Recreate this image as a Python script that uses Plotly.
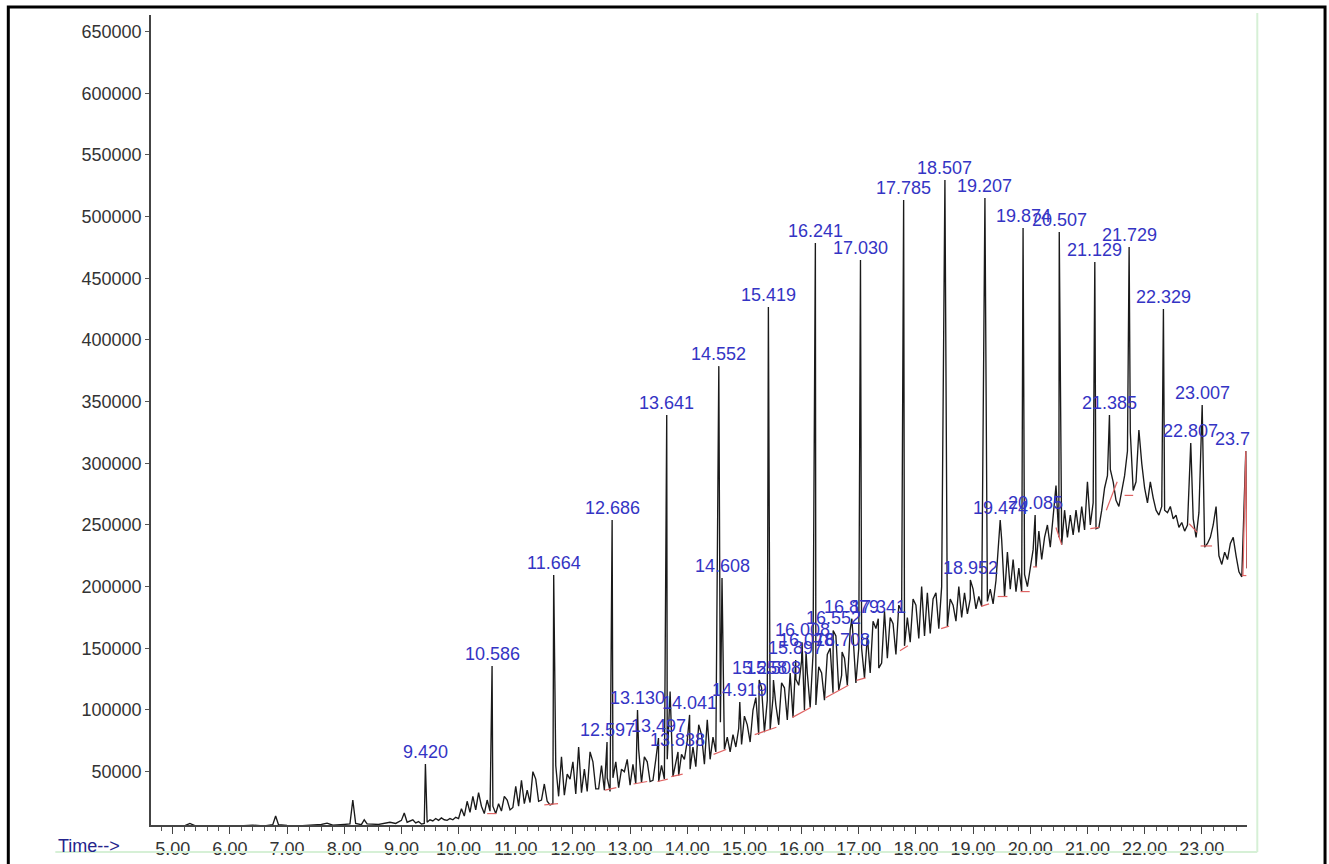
import plotly.graph_objects as go

# ---------------- data (time in min, abundance in thousands) ----------------
BG_TIMES = [
    4.62, 4.80, 5.00, 5.20, 5.30, 5.40, 5.60, 5.80, 6.00, 6.20, 6.40, 6.60, 6.75, 6.80, 6.85,
    7.00, 7.20, 7.40, 7.60, 7.70, 7.80, 8.00, 8.10, 8.15, 8.20, 8.30, 8.35, 8.40, 8.60, 8.80,
    8.90, 9.00, 9.05, 9.10, 9.20, 9.25, 9.30, 9.35, 9.40, 9.45, 9.50, 9.55, 9.60, 9.65, 9.70,
    9.75, 9.80, 9.85, 9.90, 9.95, 10.00, 10.05, 10.10, 10.15, 10.20, 10.25, 10.30, 10.35, 10.40,
    10.45, 10.50, 10.55, 10.60, 10.65, 10.70, 10.75, 10.80, 10.85, 10.90, 10.95, 11.00, 11.05,
    11.10, 11.15, 11.20, 11.25, 11.30, 11.35, 11.40, 11.45, 11.50, 11.55, 11.60, 11.65, 11.70,
    11.75, 11.80, 11.85, 11.90, 11.95, 12.00, 12.05, 12.10, 12.15, 12.20, 12.25, 12.30, 12.35,
    12.40, 12.45, 12.50, 12.55, 12.60, 12.65, 12.70, 12.75, 12.80, 12.85, 12.90, 12.95, 13.00,
    13.05, 13.10, 13.15, 13.20, 13.25, 13.30, 13.35, 13.40, 13.45, 13.50, 13.55, 13.60, 13.65,
    13.70, 13.75, 13.80, 13.85, 13.90, 13.95, 14.00, 14.05, 14.10, 14.15, 14.20, 14.25, 14.30,
    14.35, 14.40, 14.45, 14.50, 14.58, 14.65, 14.70, 14.75, 14.80, 14.85, 14.90, 14.95, 15.00,
    15.05, 15.10, 15.15, 15.20, 15.25, 15.30, 15.35, 15.40, 15.45, 15.50, 15.55, 15.60, 15.65,
    15.70, 15.75, 15.80, 15.85, 15.90, 15.95, 16.00, 16.05, 16.10, 16.15, 16.20, 16.25, 16.30,
    16.35, 16.40, 16.45, 16.50, 16.55, 16.60, 16.65, 16.70, 16.75, 16.80, 16.85, 16.90, 16.95,
    17.00, 17.05, 17.10, 17.15, 17.20, 17.25, 17.30, 17.35, 17.40, 17.45, 17.50, 17.55, 17.60,
    17.65, 17.70, 17.75, 17.80, 17.85, 17.90, 17.95, 18.00, 18.05, 18.10, 18.15, 18.20, 18.25,
    18.30, 18.35, 18.40, 18.45, 18.55, 18.60, 18.65, 18.70, 18.75, 18.80, 18.85, 18.90, 18.95,
    19.00, 19.05, 19.10, 19.15, 19.25, 19.30, 19.35, 19.40, 19.45, 19.50, 19.55, 19.60, 19.65,
    19.70, 19.75, 19.80, 19.85, 19.90, 19.95, 20.00, 20.05, 20.10, 20.15, 20.20, 20.25, 20.30,
    20.35, 20.40, 20.45, 20.50, 20.55, 20.60, 20.65, 20.70, 20.75, 20.80, 20.85, 20.90, 20.95,
    21.00, 21.05, 21.10, 21.15, 21.20, 21.25, 21.30, 21.35, 21.40, 21.45, 21.50, 21.55, 21.60,
    21.65, 21.70, 21.75, 21.80, 21.85, 21.90, 21.95, 22.00, 22.05, 22.10, 22.15, 22.20, 22.25,
    22.30, 22.35, 22.40, 22.45, 22.50, 22.55, 22.60, 22.65, 22.70, 22.75, 22.85, 22.90, 22.95,
    23.05, 23.10, 23.15, 23.20, 23.25, 23.30, 23.35, 23.40, 23.45, 23.50, 23.55, 23.60, 23.65,
    23.70, 23.79,
]
BG_SIGNAL_K = [
    5.5, 5.8, 5.4, 6.0, 8.0, 6.0, 5.5, 6.2, 5.6, 6.0, 6.6, 6.0, 7.0, 14.0, 7.0,
    6.4, 6.0, 6.6, 7.2, 8.2, 6.6, 7.2, 7.6, 27.0, 8.0, 7.0, 11.0, 7.6, 7.2, 9.0,
    8.0, 10.5, 16.5, 9.0, 11.0, 8.5, 9.5, 7.5, 8.0, 9.0, 11.0, 10.0, 12.0, 10.5, 12.5,
    11.0, 10.5, 12.0, 11.0, 13.0, 12.0, 20.0, 14.0, 26.0, 17.0, 30.0, 19.0, 33.0, 22.0,
    16.0, 27.0, 18.0, 22, 16, 24, 18, 30, 27, 19, 21, 38, 22,
    43, 24, 35, 25, 50, 44, 26, 27, 40, 26, 23, 24, 55,
    30, 62, 31, 48, 44, 58, 32, 70, 33, 52, 34, 66, 58,
    36, 36, 55, 35, 45, 34, 45, 58, 37, 52, 50, 60, 39,
    56, 40, 68, 41, 62, 58, 42, 43, 60, 42, 55, 44, 60,
    115, 46, 58, 47, 64, 60, 75, 52, 70, 54, 88, 80, 56,
    92, 60, 78, 66, 90, 68, 78, 66, 80, 70, 85, 72, 95,
    88, 74, 100, 110, 80, 118, 82, 108, 84, 110, 104, 88, 122,
    118, 92, 130, 94, 125, 120, 140, 100, 130, 102, 145, 104, 135,
    130, 108, 145, 150, 114, 160, 116, 128, 142, 120, 165, 160, 122,
    150, 150, 126, 160, 130, 172, 166, 134, 138, 180, 142, 175, 170,
    145, 185, 180, 152, 175, 155, 190, 185, 158, 200, 160, 195, 162,
    190, 195, 166, 200, 168, 190, 185, 172, 200, 175, 195, 178, 190,
    198, 182, 192, 184, 188, 198, 186, 205, 235, 238, 192, 228, 198,
    222, 196, 215, 196, 210, 200, 215, 230, 216, 245, 222, 240, 250,
    232, 255, 282, 240, 234, 262, 240, 258, 242, 262, 244, 265, 246,
    285, 250, 268, 247, 248, 262, 280, 290, 295, 285, 270, 265, 278,
    290, 310, 325, 278, 285, 327, 300, 280, 268, 285, 272, 262, 258,
    265, 262, 260, 265, 255, 258, 248, 252, 245, 250, 255, 240, 260,
    232, 235, 240, 250, 265, 225, 218, 228, 222, 235, 240, 225, 212,
    208, 215,
]

PEAK_LABELS = [
    "9.420", "10.586", "11.664", "12.597", "12.686", "13.130", "13.497", "13.641", "13.838",
    "14.041", "14.552", "14.608", "14.919", "15.258", "15.419", "15.508", "15.897", "16.008",
    "16.078", "16.241", "16.552", "16.708", "16.879", "17.030", "17.341", "17.785", "18.507",
    "18.952", "19.207", "19.474", "19.874", "20.085", "20.507", "21.129", "21.385", "21.729",
    "22.329", "22.807", "23.007", "23.7",
]
PEAK_TIMES = [
    9.420, 10.586, 11.664, 12.597, 12.686, 13.130, 13.497, 13.641, 13.838,
    14.041, 14.552, 14.608, 14.919, 15.258, 15.419, 15.508, 15.897, 16.008,
    16.078, 16.241, 16.552, 16.708, 16.879, 17.030, 17.341, 17.785, 18.507,
    18.952, 19.207, 19.474, 19.874, 20.085, 20.507, 21.129, 21.385, 21.729,
    22.329, 22.807, 23.007, 23.770,
]
PEAK_HEIGHTS_K = [
    56.2, 135.6, 209.4, 74.1, 254.0, 100.0, 77.3, 339.1, 66.0,
    96.0, 378.8, 207.0, 106.5, 124.3, 426.7, 124.3, 140.6, 155.0,
    147.0, 478.7, 164.5, 147.0, 174.0, 464.9, 174.0, 513.5, 529.7,
    205.4, 515.1, 254.0, 490.8, 258.1, 487.6, 463.3, 339.1, 475.4,
    425.1, 316.4, 347.2, 310.0,
]

# integration baselines (red): start time, start level, end time, end level (thousands)
RED_T0 = [9.30, 10.50, 11.50, 12.56, 13.06, 13.48, 13.72, 14.46, 15.18, 15.84, 16.42, 16.96,
          17.72, 18.44, 19.14, 19.43, 19.83, 20.05, 20.45, 21.05, 21.33, 21.65, 22.78, 22.98, 23.70]
RED_V0 = [6.0, 16, 23, 35, 40, 42, 46, 64, 80, 94, 110, 124,
          148, 166, 184, 192, 196, 216, 248, 247, 262, 274, 251, 233, 209]
RED_T1 = [9.50, 10.66, 11.74, 12.76, 13.30, 13.66, 13.92, 14.68, 15.56, 16.16, 16.82, 17.12,
          17.86, 18.58, 19.28, 19.60, 19.99, 20.12, 20.55, 21.20, 21.52, 21.80, 22.92, 23.18, 23.78]
RED_V1 = [6.0, 16, 24, 37, 42, 44, 48, 68, 86, 102, 120, 126,
          152, 168, 186, 192, 196, 216, 234, 248, 285, 274, 244, 233, 209]
RED_PEAK_T = [23.72, 23.770, 23.79]
RED_PEAK_V = [209, 310.0, 215]

Y_TICKS = [50000, 100000, 150000, 200000, 250000, 300000, 350000, 400000, 450000,
           500000, 550000, 600000, 650000]
X_TICKS = [5, 6, 7, 8, 9, 10, 11, 12, 13, 14, 15, 16, 17, 18, 19, 20, 21, 22, 23]
X_RANGE = [4.620, 23.791]
Y_RANGE = [6750, 663500]

# ---------------- build ----------------
pts = sorted(zip(BG_TIMES + PEAK_TIMES, BG_SIGNAL_K + PEAK_HEIGHTS_K))
tx = [p[0] for p in pts]
ty = [p[1] * 1000 for p in pts]

FONT = "Liberation Sans, Arial, sans-serif"
BLUE = "#3434c4"
RED = "#e06464"

fig = go.Figure()
fig.add_trace(go.Scatter(x=tx, y=ty, mode="lines",
                         line=dict(color="#1a1a1a", width=1.35), hoverinfo="skip",
                         showlegend=False))

rx, ry = [], []
for t0, v0, t1, v1 in zip(RED_T0, RED_V0, RED_T1, RED_V1):
    rx += [t0, t1, None]
    ry += [v0 * 1000, v1 * 1000, None]
rx += RED_PEAK_T
ry += [v * 1000 for v in RED_PEAK_V]
fig.add_trace(go.Scatter(x=rx, y=ry, mode="lines", line=dict(color=RED, width=1.2),
                         hoverinfo="skip", showlegend=False, connectgaps=False))

for lab, t, h in zip(PEAK_LABELS, PEAK_TIMES, PEAK_HEIGHTS_K):
    near_edge = t > X_RANGE[1] - 0.3
    fig.add_annotation(x=t, y=h * 1000, text=lab, showarrow=False,
                       xanchor="right" if near_edge else "center", yanchor="bottom",
                       xshift=6 if near_edge else 0, yshift=0,
                       font=dict(family=FONT, size=18, color=BLUE))

fig.add_annotation(xref="paper", yref="paper", x=-0.0563, y=-0.026, text="Time-->",
                   showarrow=False, xanchor="center", yanchor="middle",
                   font=dict(family=FONT, size=18, color="#24248c"))

# frame lines: outer black border and faint green box
fig.add_shape(type="rect", xref="paper", yref="paper", x0=-0.1302, x1=1.0712, y0=-0.06, y1=1.0099,
              line=dict(color="black", width=3), fillcolor="rgba(0,0,0,0)", layer="above")
fig.add_shape(type="line", xref="paper", yref="paper", x0=1.0094, x1=1.0094, y0=-0.0333, y1=1.0025,
              line=dict(color="#d6f0d6", width=2))
fig.add_shape(type="line", xref="paper", yref="paper", x0=-0.0873, x1=1.0094, y0=-0.0333, y1=-0.0333,
              line=dict(color="#d6f0d6", width=2))

fig.update_layout(
    width=1329, height=864,
    margin=dict(l=151, r=82, t=15, b=39),
    paper_bgcolor="white", plot_bgcolor="white",
    font=dict(family=FONT, size=18, color="#333333"),
    xaxis=dict(range=X_RANGE, tickmode="array", tickvals=X_TICKS,
               ticktext=["%.2f" % v for v in X_TICKS], automargin=False,
               showgrid=False, zeroline=False, showline=True, linecolor="#444444", linewidth=1.5,
               ticks="outside", ticklen=7, tickwidth=1.2, tickcolor="#444444",
               minor=dict(ticks="outside", ticklen=4, tickwidth=1, tickcolor="#555555", dtick=0.2,
                          tick0=5, showgrid=False),
               tickfont=dict(family=FONT, size=18, color="#333333")),
    yaxis=dict(range=Y_RANGE, tickmode="array", tickvals=Y_TICKS,
               ticktext=[str(v) for v in Y_TICKS], automargin=False,
               showgrid=False, zeroline=False, showline=True, linecolor="#444444", linewidth=1.5,
               ticks="outside", ticklen=4, tickwidth=1, tickcolor="#555555",
               tickfont=dict(family=FONT, size=18, color="#333333")),
)

fig.write_html("out.html")
